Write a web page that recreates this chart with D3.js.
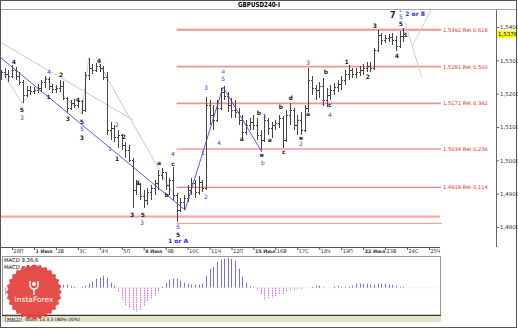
<!DOCTYPE html>
<html><head><meta charset="utf-8">
<script src="https://cdn.jsdelivr.net/npm/d3@7/dist/d3.min.js"></script>
<style>body{margin:0;background:#fff}svg{display:block}text{font-family:"DejaVu Sans",sans-serif}</style>
</head><body><svg id="c" width="518" height="330"></svg>
<script>
// ---------- DATA ----------
const symbol = "GBPUSD240-I";
const firstIndex = -3; // H4 bars; index 0 = 28 Jun 00:00
const open  = [1.5247,1.5265,1.5259,1.5253,1.5271,1.5253,1.5235,1.5196,1.5211,1.5208,1.5211,1.5217,1.5235,1.5244,1.5223,1.5214,1.5217,1.5223,1.5187,1.5157,1.5172,1.5166,1.5178,1.5151,1.5256,1.5277,1.5271,1.5283,1.5277,1.5250,1.5091,1.5097,1.5070,1.5076,1.5046,1.5031,1.5001,1.4911,1.4929,1.4893,1.4881,1.4905,1.4917,1.4932,1.4956,1.4965,1.4926,1.4941,1.4896,1.4851,1.4875,1.4887,1.4911,1.4932,1.4905,1.4935,1.4917,1.5166,1.5136,1.5121,1.5157,1.5205,1.5193,1.5166,1.5151,1.5145,1.5121,1.5085,1.5106,1.5115,1.5106,1.5076,1.5061,1.5121,1.5097,1.5106,1.5112,1.5127,1.5061,1.5136,1.5151,1.5106,1.5121,1.5091,1.5157,1.5241,1.5217,1.5211,1.5223,1.5181,1.5196,1.5211,1.5220,1.5229,1.5241,1.5259,1.5271,1.5259,1.5265,1.5271,1.5277,1.5283,1.5277,1.5331,1.5376,1.5361,1.5367,1.5370,1.5361,1.5343,1.5373];
const high  = [1.5271,1.5277,1.5271,1.5286,1.5280,1.5265,1.5241,1.5223,1.5223,1.5220,1.5229,1.5241,1.5253,1.5250,1.5229,1.5226,1.5241,1.5238,1.5190,1.5181,1.5184,1.5187,1.5181,1.5265,1.5307,1.5289,1.5292,1.5289,1.5283,1.5265,1.5115,1.5106,1.5091,1.5079,1.5055,1.5046,1.5007,1.4941,1.4932,1.4911,1.4917,1.4926,1.4941,1.4971,1.4977,1.4965,1.4947,1.4980,1.4902,1.4887,1.4896,1.4926,1.4947,1.4941,1.4953,1.4941,1.5190,1.5181,1.5166,1.5181,1.5217,1.5223,1.5205,1.5187,1.5181,1.5157,1.5136,1.5121,1.5127,1.5136,1.5127,1.5091,1.5136,1.5127,1.5115,1.5121,1.5136,1.5133,1.5151,1.5172,1.5157,1.5136,1.5145,1.5166,1.5277,1.5253,1.5226,1.5235,1.5247,1.5217,1.5226,1.5232,1.5241,1.5253,1.5271,1.5286,1.5277,1.5277,1.5283,1.5289,1.5295,1.5295,1.5337,1.5391,1.5382,1.5376,1.5379,1.5382,1.5373,1.5388,1.5397];
const low   = [1.5241,1.5247,1.5235,1.5247,1.5241,1.5226,1.5172,1.5190,1.5196,1.5199,1.5202,1.5205,1.5217,1.5211,1.5202,1.5202,1.5205,1.5181,1.5142,1.5151,1.5157,1.5157,1.5139,1.5145,1.5241,1.5259,1.5265,1.5265,1.5241,1.5076,1.5061,1.5055,1.5037,1.5031,1.5007,1.4995,1.4857,1.4896,1.4881,1.4857,1.4866,1.4881,1.4896,1.4911,1.4941,1.4911,1.4896,1.4881,1.4815,1.4845,1.4851,1.4875,1.4896,1.4887,1.4896,1.4905,1.4911,1.5106,1.5091,1.5115,1.5151,1.5181,1.5145,1.5127,1.5127,1.5106,1.5067,1.5076,1.5091,1.5091,1.5061,1.5031,1.5055,1.5076,1.5067,1.5091,1.5097,1.5037,1.5055,1.5106,1.5091,1.5076,1.5076,1.5085,1.5145,1.5196,1.5181,1.5187,1.5163,1.5160,1.5181,1.5196,1.5205,1.5211,1.5226,1.5241,1.5247,1.5247,1.5253,1.5256,1.5265,1.5265,1.5271,1.5325,1.5346,1.5352,1.5355,1.5346,1.5328,1.5337,1.5355];
const close = [1.5265,1.5259,1.5253,1.5271,1.5253,1.5235,1.5196,1.5211,1.5208,1.5211,1.5217,1.5235,1.5244,1.5223,1.5214,1.5217,1.5223,1.5187,1.5157,1.5172,1.5166,1.5178,1.5151,1.5256,1.5277,1.5271,1.5283,1.5277,1.5250,1.5091,1.5097,1.5070,1.5076,1.5046,1.5031,1.5001,1.4911,1.4929,1.4893,1.4881,1.4905,1.4917,1.4932,1.4956,1.4965,1.4926,1.4941,1.4896,1.4851,1.4875,1.4887,1.4911,1.4932,1.4905,1.4935,1.4917,1.5166,1.5136,1.5121,1.5157,1.5205,1.5193,1.5166,1.5151,1.5145,1.5121,1.5085,1.5106,1.5115,1.5106,1.5076,1.5061,1.5121,1.5097,1.5106,1.5112,1.5127,1.5061,1.5136,1.5151,1.5106,1.5121,1.5091,1.5157,1.5241,1.5217,1.5211,1.5223,1.5181,1.5196,1.5211,1.5220,1.5229,1.5241,1.5259,1.5271,1.5259,1.5265,1.5271,1.5277,1.5283,1.5277,1.5331,1.5376,1.5361,1.5367,1.5370,1.5361,1.5343,1.5373,1.5378];
const lastPrice = 1.5378;
const macdHist = [-0.0006,-0.0007,-0.0008,-0.0008,-0.0007,-0.0006,-0.0005,-0.0005,-0.0004,-0.0003,-0.0003,-0.0002,-0.0002,-0.0001,-0.0001,0,0.0001,0.0003,0.0003,0.0002,0.0001,0,0.0001,0.0002,0.0004,0.0006,0.0009,0.0010,0.0012,0.0010,0.0005,0.0002,-0.0004,-0.0012,-0.0018,-0.0021,-0.0023,-0.0024,-0.0022,-0.0018,-0.0014,-0.0011,-0.0008,-0.0005,0.0001,0.0005,0.0008,0.0009,0.0009,0.0007,0.0005,0.0004,0.0003,0.0003,0.0003,0.0004,0.0012,0.0019,0.0021,0.0026,0.0028,0.0029,0.0030,0.0029,0.0027,0.0019,0.0011,0.0005,0.0002,0.0001,-0.0002,-0.0007,-0.0012,-0.0011,-0.0010,-0.0009,-0.0007,-0.0006,-0.0004,-0.0003,-0.0002,-0.0001,-0.0001,0,0,0.0001,0.0002,0.0002,0.0001,0,0,0.0001,0.0002,0.0001,0.0001,0.0001,0.0002,0.0004,0.0004,0.0004,0.0004,0.0003,0.0003,0.0004,0.0004,0.0004,0.0003,0.0003,0.0002,0.0001,0.0001];
const dayLabels = ["28П","1 Июл","2В","3С","4Ч","5П","8 Июл","9В","10С","11Ч","12П","15 Июл","16В","17С","18Ч","19П","22 Июл","23В","24С","25Ч"];
const priceTicks = [1.48,1.49,1.50,1.51,1.52,1.53,1.54];
const fibPrices = [1.5392,1.5281,1.5171,1.5034,1.4919];
const fibRatios = ["0,618","0,500","0,382","0,236","0,114"];
const extraLevels = [1.4831,1.4811];
// wave labels: [bar index, price, text, kind]
const waveLabels = [
 [0.5,1.5295,"4","k"],[2.7,1.5151,"5","k"],[2.7,1.5128,"3","b"],[10.1,1.5265,"4","b"],[10,1.5190,"1","k"],
 [13.4,1.5256,"2","k"],[18,1.5181,"4","k"],[15.3,1.5124,"3","k"],[19.1,1.5115,"5","k"],[19.1,1.5094,"5","b"],
 [19.1,1.5067,"3","k"],[23.8,1.5298,"4","k"],[28.7,1.5106,"2","b"],[30.6,1.5070,"2","k"],[26.8,1.5034,"1","b"],
 [28.7,1.5004,"1","k"],[34.4,1.4932,"4","k"],[32.8,1.4836,"3","k"],[35.5,1.4812,"3","b"],[35.8,1.4836,"5","k"],
 [40.2,1.4992,"a","k"],[42.3,1.4896,"b","k"],[44,1.5020,"4","b"],[44,1.4991,"c","k"],[45.4,1.4800,"5","b"],
 [45.4,1.4776,"5","k"],[45.4,1.4758,"1 or A","B"],[53,1.4890,"2","b"],[52.2,1.5022,"1","b"],[56.6,1.5052,"4","b"],
 [53,1.5217,"3","b"],[57.7,1.5244,"5","b"],[57.7,1.5268,"a","b"],[62.8,1.5064,"a","k"],[67.5,1.5142,"b","k"],
 [69.1,1.5133,"1","b"],[68.3,1.5016,"e","k"],[68.6,1.4992,"b","b"],[70.5,1.5061,"a","k"],[73.5,1.5160,"b","k"],
 [74.3,1.5025,"c","k"],[76.2,1.5187,"d","k"],[79,1.5067,"e","k"],[79,1.5049,"2","b"],[80.9,1.5292,"3","b"],
 [80.9,1.5139,"a","k"],[85.8,1.5265,"b","k"],[85,1.5172,"1","m"],[86.9,1.5138,"4","b"],[86.9,1.5167,"c","k"],
 [91.5,1.5295,"1","k"],[97.3,1.5250,"2","k"],[99.2,1.5403,"3","k"],[105.2,1.5313,"4","k"],[106.3,1.5409,"5","k"],
 [106.3,1.5431,"5","b"],[106.3,1.5453,"c","b"],[104.1,1.5433,"7","K"],[110.2,1.5439,"2 or 8","B"],[107.6,1.5376,"1","k"]
];
// trend lines: [i1,p1,i2,p2,colour]
const trendLines = [
 [-3.3,1.5355,33.1,1.5121,"#c8c8c8"],
 [23.2,1.5301,44.5,1.4890,"#c8c8c8"],
 [-3.3,1.5310,47.3,1.4851,"#5a5af0"],
 [47.3,1.4851,57.7,1.5220,"#5a5af0"],
 [57.7,1.5220,68.3,1.5025,"#5a5af0"],
 [107.4,1.5415,112,1.5250,"#cfcfcf"],
 [109.6,1.5346,114.8,1.5457,"#cfcfcf"]
];
// light wave path (bar index, price)
const wavePath = [[-3.3,1.5277],[2.7,1.5172],[9.5,1.5247],[19,1.5139],[21,1.5307]];

// ---------- SCALES ----------
const svg = d3.select("#c");
const x = d3.scaleLinear().domain([0,114]).range([12,429]);
const y = d3.scaleLinear().domain([1.48,1.54]).range([227,27]);
const ym = d3.scaleLinear().domain([-0.00273,0.0031]).range([315,256.7]);
const bars = open.map((o,k)=>({i:k+firstIndex,o,h:high[k],l:low[k],c:close[k],m:macdHist[k]}));
const comma = v => v.toFixed(4).replace(".",",");

// frame
svg.append("rect").attr("x",0.5).attr("y",0.5).attr("width",516).attr("height",327).attr("fill","#fff").attr("stroke","#555");
svg.append("line").attr("x1",1).attr("x2",516).attr("y1",9.5).attr("y2",9.5).attr("stroke","#a8a8a8");
svg.append("text").attr("x",259).attr("y",7.2).attr("text-anchor","middle").attr("font-size",7).attr("font-weight","bold")
  .attr("textLength",42).attr("lengthAdjust","spacingAndGlyphs").text(symbol);

svg.append("clipPath").attr("id","pc").append("rect").attr("x",1).attr("y",10).attr("width",495).attr("height",236);
const g = svg.append("g").attr("clip-path","url(#pc)");

// fib lines
const xFibStart = x(45), xFibEnd = 441;
const fibStyle = [["#f49090",2],["#f49090",1.6],["#f49090",1.6],["#f8b4b4",2.2],["#e85a5a",1]];
fibPrices.forEach((p,k)=>{
  g.append("line").attr("x1",xFibStart).attr("x2",xFibEnd).attr("y1",y(p)).attr("y2",y(p))
   .attr("stroke",fibStyle[k][0]).attr("stroke-width",fibStyle[k][1]);
  svg.append("text").attr("x",443).attr("y",y(p)+2).attr("font-size",5.2).attr("fill","#f03030")
   .attr("font-family","Liberation Sans, sans-serif").text(comma(p)+" Ret "+fibRatios[k]);
});
g.append("line").attr("x1",1).attr("x2",440).attr("y1",y(extraLevels[0])).attr("y2",y(extraLevels[0])).attr("stroke","#f7a8a8").attr("stroke-width",2.2);
g.append("line").attr("x1",xFibStart).attr("x2",442).attr("y1",y(extraLevels[1])).attr("y2",y(extraLevels[1])).attr("stroke","#f4a0a0").attr("stroke-width",1.2);

// light wave path
g.append("path").attr("d",d3.line().x(d=>x(d[0])).y(d=>y(d[1]))(wavePath)).attr("fill","none").attr("stroke","#b4d4e4").attr("stroke-width",1);

// trend lines
trendLines.forEach(t=>{
  g.append("line").attr("x1",x(t[0])).attr("y1",y(t[1])).attr("x2",x(t[2])).attr("y2",y(t[3]))
   .attr("stroke",t[4]).attr("stroke-width",1);
});

// OHLC bars
const bg = g.append("g").attr("stroke","#444").attr("stroke-width",1);
bars.forEach(b=>{
  const cx = Math.round(x(b.i))+0.5;
  bg.append("line").attr("x1",cx).attr("x2",cx).attr("y1",y(b.h)).attr("y2",y(b.l));
  bg.append("line").attr("x1",cx-1.5).attr("x2",cx).attr("y1",Math.round(y(b.o))+0.5).attr("y2",Math.round(y(b.o))+0.5);
  bg.append("line").attr("x1",cx).attr("x2",cx+1.5).attr("y1",Math.round(y(b.c))+0.5).attr("y2",Math.round(y(b.c))+0.5);
});

// wave labels
const styles = {k:["#222",6,"bold"],K:["#222",8,"bold"],b:["#3a3af5",6,"normal"],B:["#2a2af0",6,"bold"],m:["#e040e0",6.5,"normal"]};
waveLabels.forEach(w=>{
  const s = styles[w[3]];
  g.append("text").attr("x",x(w[0])).attr("y",y(w[1])+2.2).attr("text-anchor","middle")
   .attr("font-size",s[1]).attr("font-weight",s[2]).attr("fill",s[0]).text(w[2]);
});

// price axis
svg.append("line").attr("x1",496.5).attr("x2",496.5).attr("y1",10).attr("y2",247).attr("stroke","#666");
const ax = svg.append("g").attr("transform","translate(496.5,0)")
  .call(d3.axisRight(y).tickValues(priceTicks).tickSize(2.5).tickPadding(1).tickFormat(comma));
ax.select(".domain").remove();
ax.selectAll("line").attr("stroke","#666");
ax.selectAll("text").attr("font-size",5.5).attr("fill","#333").attr("font-family","Liberation Sans, sans-serif");
svg.append("rect").attr("x",497).attr("y",y(lastPrice)-3.6).attr("width",19).attr("height",7.2).attr("fill","#ffff00");
svg.append("text").attr("x",498).attr("y",y(lastPrice)+2).attr("font-size",5.5).attr("font-family","Liberation Sans, sans-serif").text(comma(lastPrice));

// date axis
const dayIdx = dayLabels.map((d,k)=>k*6);
svg.append("line").attr("x1",1).attr("x2",440).attr("y1",247.5).attr("y2",247.5).attr("stroke","#555");
const dx = svg.append("g").attr("transform","translate(0,247.5)")
  .call(d3.axisBottom(x).tickValues(dayIdx).tickSize(2.5).tickFormat(()=>""));
dx.select(".domain").remove();
dx.selectAll("line").attr("stroke","#555");
dayIdx.forEach((v,k)=>{
  const t = svg.append("text").attr("x",x(v)+1.5).attr("y",253).attr("font-size",5).attr("fill","#333")
    .attr("font-family","Liberation Sans, sans-serif").text(dayLabels[k]);
  if (dayLabels[k].includes(" ")) t.attr("font-weight","bold").attr("font-size",4.8);
});

// MACD pane
svg.append("rect").attr("x",2.5).attr("y",256.5).attr("width",438).attr("height",58.5).attr("fill","#fff").attr("stroke","#999");
const mg = svg.append("g");
bars.forEach(b=>{
  if (b.m===0) return;
  const cx = Math.round(x(b.i))+0.5;
  if (cx<3) return;
  const l = mg.append("line").attr("x1",cx).attr("x2",cx).attr("y1",ym(0)).attr("y2",ym(b.m)).attr("stroke-width",1);
  if (b.m>0) l.attr("stroke","#7070f5"); else l.attr("stroke","#f060f0").attr("stroke-dasharray","1.5,0.8");
});
svg.append("line").attr("x1",3).attr("x2",440).attr("y1",ym(0)).attr("y2",ym(0)).attr("stroke","#c0c0e8").attr("stroke-width",0.5).attr("stroke-dasharray","1,1.5");
svg.append("text").attr("x",4).attr("y",262).attr("font-size",5.3).attr("font-family","Liberation Sans, sans-serif").text("MACD 9,36,6");
const mt = svg.append("text").attr("x",4).attr("y",268.5).attr("font-size",5.3).attr("font-family","Liberation Sans, sans-serif");
mt.append("tspan").text("MACD =");
mt.append("tspan").attr("fill","#2a2af0").text("0,00");

// bottom strip
svg.append("rect").attr("x",2).attr("y",315).attr("width",439).attr("height",7).attr("fill","#e6e4c8");
svg.append("line").attr("x1",2).attr("x2",441).attr("y1",315.5).attr("y2",315.5).attr("stroke","#333");
svg.append("rect").attr("x",5.5).attr("y",316).attr("width",16).attr("height",5.5).attr("fill","#f4f4e8").attr("stroke","#666").attr("stroke-width",0.6);
svg.append("text").attr("x",7).attr("y",320.6).attr("font-size",4.5).attr("font-family","Liberation Sans, sans-serif").text("MACD");
svg.append("text").attr("x",25).attr("y",320.6).attr("font-size",4.5).attr("font-family","Liberation Sans, sans-serif").text("Stoch 13,3,3 (80%-20%)");

// InstaForex badge
const cx0=34, cy0=292, rO=28, rI=25.5, nT=28;
const pts = d3.range(nT*2).map(k=>{const a=k*Math.PI/nT; const r=k%2?rI:rO; return [cx0+r*Math.cos(a), cy0+r*Math.sin(a)];});
svg.append("polygon").attr("points",pts.map(p=>p.join(",")).join(" ")).attr("fill","#e2403c").attr("opacity",0.93);
svg.append("circle").attr("cx",cx0).attr("cy",cy0).attr("r",22).attr("fill","#e8524a").attr("opacity",0.6);
const ic = svg.append("g").attr("fill","none").attr("stroke","#fff").attr("stroke-width",1.4);
ic.append("path").attr("d",`M${cx0-4},${cy0-11} v4 q0,4 4,4 q4,0 4,-4 v-4 M${cx0},${cy0-3} v6`);
ic.append("circle").attr("cx",cx0).attr("cy",cy0-8).attr("r",1.2).attr("fill","#fff");
svg.append("text").attr("x",cx0).attr("y",cy0+10).attr("text-anchor","middle").attr("font-size",7.5).attr("fill","#fff")
  .attr("font-family","Liberation Sans, sans-serif").text("InstaForex");
</script></body></html>
